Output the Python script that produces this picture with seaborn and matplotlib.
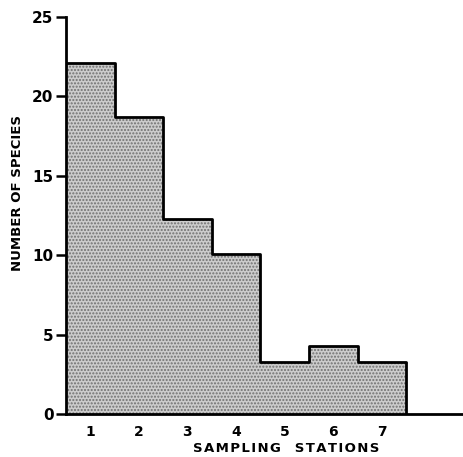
import matplotlib
matplotlib.use('Agg')
import matplotlib.pyplot as plt
import seaborn as sns
import pandas as pd

# ── DATA ────────────────────────────────────────────────────
stations = [1, 2, 3, 4, 5, 6, 7]
species = [22.1, 18.7, 12.3, 10.1, 3.3, 4.3, 3.3]
y_ticks = [0, 5, 10, 15, 20, 25]

df = pd.DataFrame({'station': stations, 'species': species})

sns.set_style('ticks', {'axes.edgecolor': 'black', 'text.color': 'black',
                        'xtick.color': 'black', 'ytick.color': 'black',
                        'axes.labelcolor': 'black'})
plt.rcParams['font.family'] = ['DejaVu Sans']

fig = plt.figure(figsize=(4.64, 4.57), dpi=100)
ax = fig.add_axes([0.142, 0.094, 0.856, 0.869])

# ── HISTOGRAM: stippled fill, then black step outline ───────
sns.histplot(data=df, x='station', weights='species', discrete=True,
             element='step', fill=True, color='#cccccc', alpha=1,
             linewidth=0, ax=ax)
for coll in ax.collections:
    coll.set_hatch('.....')
    coll.set_edgecolor('#707070')
    coll.set_linewidth(0)

sns.histplot(data=df, x='station', weights='species', discrete=True,
             element='step', fill=False, color='black', linewidth=2, ax=ax)
# close the outline on the right side of the last station
ax.vlines(stations[-1] + 0.5, 0, species[-1], color='black', linewidth=2)

ax.set_xlim(0.5, 8.67)
ax.set_ylim(0, 25)
ax.set_yticks(y_ticks)
ax.set_xticks(stations)
ax.set_xticks([s + 0.5 for s in stations[:-1]], minor=True)
ax.tick_params(axis='x', which='major', length=0, pad=8, labelsize=10)
ax.tick_params(axis='x', which='minor', direction='in', length=4, width=1.2)
ax.tick_params(axis='y', length=7, width=1.8, labelsize=11, pad=2)
for lbl in ax.get_xticklabels() + ax.get_yticklabels():
    lbl.set_fontweight('bold')

for side in ['top', 'right']:
    ax.spines[side].set_visible(False)
for side in ['left', 'bottom']:
    ax.spines[side].set_linewidth(2)

ax.set_xlabel('S\u200aA\u200aM\u200aP\u200aL\u200aI\u200aN\u200aG   '
              'S\u200aT\u200aA\u200aT\u200aI\u200aO\u200aN\u200aS',
              fontsize=9.5, fontweight='bold')
ax.set_ylabel('NUMBER OF SPECIES', fontsize=9.5, fontweight='bold')
ax.xaxis.set_label_coords(0.554, -0.071)
ax.yaxis.set_label_coords(-0.106, 0.557)

fig.savefig('out.png', dpi=100)
